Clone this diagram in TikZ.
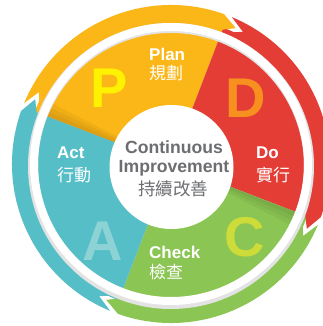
\documentclass[tikz,border=0pt]{standalone}
\usepackage{fontspec}
\setmainfont{Liberation Sans}
\newfontfamily\cjk{Noto Sans CJK TC}
\definecolor{cyel}{HTML}{FBB617}
\definecolor{cred}{HTML}{E33D36}
\definecolor{cgrn}{HTML}{8BC553}
\definecolor{cteal}{HTML}{55BEC6}
\definecolor{lP}{HTML}{FFF200}
\definecolor{lD}{HTML}{F7901E}
\definecolor{lC}{HTML}{CDDC39}
\definecolor{lA}{HTML}{8DD3D6}
\definecolor{ctext}{HTML}{6D6E71}
\tikzset{
  lbl/.style={anchor=west,inner sep=0pt,text=white,font=\fontsize{17}{20}\selectfont\bfseries},
  lblcjk/.style={anchor=west,inner sep=0pt,text=white,font=\fontsize{17}{20}\selectfont\cjk},
  bigletter/.style={inner sep=0pt,font=\fontsize{56}{60}\selectfont\bfseries},
  ctr/.style={inner sep=0pt,text=ctext,font=\fontsize{17.6}{20}\selectfont\bfseries},
  ctrcjk/.style={inner sep=0pt,text=ctext,font=\fontsize{17.5}{20}\selectfont\cjk}
}
\begin{document}
\begin{tikzpicture}[x=1pt,y=1pt]
\useasboundingbox (0,0) rectangle (323,326);
\begin{scope}[shift={(171,162)}]
  % pie wedges
  \fill[cyel]  (0,0) -- (69:146)  arc[start angle=69,end angle=159,radius=146] -- cycle;
  \fill[cred]  (0,0) -- (-21:146) arc[start angle=-21,end angle=69,radius=146] -- cycle;
  \fill[cgrn]  (0,0) -- (-111:146) arc[start angle=-111,end angle=-21,radius=146] -- cycle;
  \fill[cteal] (0,0) -- (159:146) arc[start angle=159,end angle=249,radius=146] -- cycle;
  % fold shadows
  \foreach \w in {2,4,6}{
    \fill[black,opacity=0.045] (0,0) -- (159-\w:133) arc[start angle=159-\w,end angle=159,radius=133] -- cycle;
    \fill[black,opacity=0.045] (0,0) -- (-21-\w:133) arc[start angle=-21-\w,end angle=-21,radius=133] -- cycle;
  }
  % outer arrows
  \fill[cyel]  (157.5:159) arc[start angle=157.5,end angle=70.5,radius=159] -- (64.5:150.5) -- (70.5:142)
               arc[start angle=70.5,end angle=157.5,radius=142] -- (151.5:150.5) -- cycle;
  \fill[cred]  (67.5:159) arc[start angle=67.5,end angle=-19.5,radius=159] -- (-25.5:150.5) -- (-19.5:142)
               arc[start angle=-19.5,end angle=67.5,radius=142] -- (61.5:150.5) -- cycle;
  \fill[cgrn]  (-22.5:159) arc[start angle=-22.5,end angle=-109.5,radius=159] -- (-115.5:150.5) -- (-109.5:142)
               arc[start angle=-109.5,end angle=-22.5,radius=142] -- (-28.5:150.5) -- cycle;
  \fill[cteal] (247.5:159) arc[start angle=247.5,end angle=160.5,radius=159] -- (154.5:150.5) -- (160.5:142)
               arc[start angle=160.5,end angle=247.5,radius=142] -- (241.5:150.5) -- cycle;
  % gap ring
  \fill[gray!22,even odd rule] (0,-2) circle[radius=143] (0,-2) circle[radius=133];
  \fill[white,even odd rule] (0,0) circle[radius=141] (0,0) circle[radius=133];
\end{scope}
% center circle
\fill[white] (171.5,159) circle[radius=62];
% big letters
\node[bigletter,text=lP] (bp) at (109,238) {P};
\node[bigletter,text=lD] (bd) at (246,228) {D};
\node[bigletter,text=lC] (bc) at (245,89) {C};
\node[bigletter,text=lA] (ba) at (103,85) {A};
% labels
\node[lbl] (plan) at (149,272) {Plan};
\node[lblcjk] (planc) at (149,253) {規劃};
\node[lbl] (do) at (256,173) {Do};
\node[lblcjk] (doc) at (256,151) {實行};
\node[lbl] (check) at (149,74) {Check};
\node[lblcjk] (checkc) at (149,54) {檢查};
\node[lbl] (act) at (57,173) {Act};
\node[lblcjk] (actc) at (57,151) {行動};
% center text
\node[ctr] (ci1) at (174,179) {Continuous};
\node[ctr] (ci2) at (174,158) {Improvement};
\node[ctrcjk] (ci3) at (173,137) {持續改善};
\end{tikzpicture}
\end{document}
